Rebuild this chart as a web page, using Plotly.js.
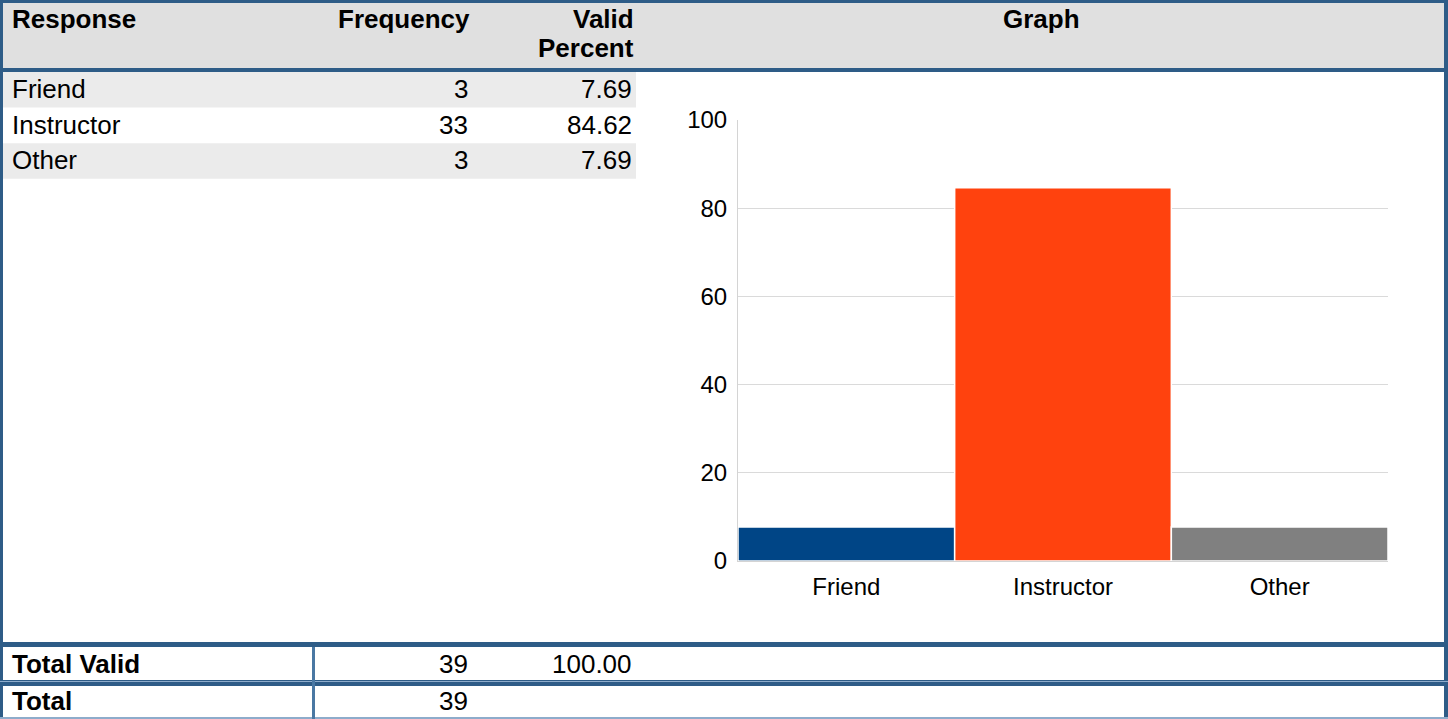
<!DOCTYPE html>
<html>
<head>
<meta charset="utf-8">
<script src="https://cdn.plot.ly/plotly-3.0.1.min.js"></script>
<style>
html,body{margin:0;padding:0;background:#fff;}
#chart{width:1448px;height:719px;}
</style>
</head>
<body>
<div id="chart"></div>
<script>
// ---- data ----
const headers = ['Response', 'Frequency', 'Valid', 'Percent', 'Graph'];
const responses = ['Friend', 'Instructor', 'Other'];
const frequency = [3, 33, 3];
const validPercent = [7.69, 84.62, 7.69];
const barColors = ['#004586', '#ff420e', '#808080'];
const totalLabels = ['Total Valid', 'Total'];
const totalFrequency = [39, 39];
const totalValidPercent = [100.00, null];
const yTicks = [0, 20, 40, 60, 80, 100];

// ---- layout helpers (pixel -> paper) ----
const W = 1448, H = 719;
const px = x => x / W;
const py = y => 1 - y / H;
const FONT = '"Liberation Sans", Arial, sans-serif';
const BORDER = '#2e5c87';

function rect(x0, y0, x1, y1, color, layer) {
  return {type: 'rect', xref: 'paper', yref: 'paper',
    x0: px(x0), x1: px(x1), y0: py(y1), y1: py(y0),
    fillcolor: color, line: {width: 0}, layer: layer || 'above'};
}
function txt(text, x, y, anchor, bold, size) {
  return {text: bold ? '<b>' + text + '</b>' : text, showarrow: false,
    xref: 'paper', yref: 'paper', x: px(x), y: py(y),
    xanchor: anchor, yanchor: 'middle',
    font: {family: FONT, size: size || 26, color: '#000'}};
}

const shapes = [];
const annotations = [];

// header background
shapes.push(rect(3, 3, 1444, 68, '#e0e0e0', 'below'));
// striped rows
const rowTop = 72, rowH = 35.6;
responses.forEach((r, i) => {
  if (i % 2 === 0) shapes.push(rect(3, rowTop + i * rowH, 636, rowTop + (i + 1) * rowH, '#ebebeb', 'below'));
});
// borders
shapes.push(rect(0, 0, W, 3, BORDER));
shapes.push(rect(0, 68, W, 72, BORDER));
shapes.push(rect(0, 0, 3, H, BORDER));
shapes.push(rect(1444, 0, W, H, BORDER));
shapes.push(rect(0, 642, W, 647, BORDER));
shapes.push(rect(0, 680, W, 686, BORDER));
shapes.push(rect(0, 681, W, 682, '#8eaccb'));
shapes.push(rect(0, 717, W, 719, '#8eaccb'));
shapes.push(rect(312, 647, 315, H, '#4a78a3'));

// header text
annotations.push(txt(headers[0], 10, 19, 'left', true));
annotations.push(txt(headers[1], 472, 19, 'right', true));
annotations.push(txt(headers[2], 636, 19, 'right', true));
annotations.push(txt(headers[3], 636, 48, 'right', true));
annotations.push(txt(headers[4], 1041, 19, 'center', true));

// body rows
responses.forEach((r, i) => {
  const cy = 89 + i * rowH;
  annotations.push(txt(r, 10, cy, 'left', false));
  annotations.push(txt(String(frequency[i]), 470, cy, 'right', false));
  annotations.push(txt(validPercent[i].toFixed(2), 634, cy, 'right', false));
});

// totals
const totalY = [664, 701];
totalLabels.forEach((t, i) => {
  annotations.push(txt(t, 10, totalY[i], 'left', true));
  annotations.push(txt(String(totalFrequency[i]), 470, totalY[i], 'right', false));
  if (totalValidPercent[i] !== null)
    annotations.push(txt(totalValidPercent[i].toFixed(2), 634, totalY[i], 'right', false));
});

const trace = {
  type: 'bar',
  x: responses,
  y: validPercent,
  marker: {color: barColors, line: {color: '#ffffff', width: 1.5}},
  hoverinfo: 'x+y'
};

const layout = {
  width: W, height: H,
  margin: {l: 0, r: 0, t: 0, b: 0},
  paper_bgcolor: '#ffffff',
  plot_bgcolor: 'rgba(0,0,0,0)',
  showlegend: false,
  bargap: 0,
  font: {family: FONT, color: '#000'},
  xaxis: {
    domain: [px(738), px(1388)],
    range: [-0.5, 2.5],
    showgrid: false,
    showline: true, linecolor: '#d4d4d4', linewidth: 1,
    ticks: '', ticklabelstandoff: 4,
    tickfont: {family: FONT, size: 24, color: '#000'},
    fixedrange: true
  },
  yaxis: {
    domain: [py(561), py(120)],
    range: [0, 100],
    tickvals: yTicks,
    showgrid: true, gridcolor: '#dadada', gridwidth: 1,
    showline: true, linecolor: '#d4d4d4', linewidth: 1,
    zeroline: false,
    ticks: '', ticklabelstandoff: 5,
    tickfont: {family: FONT, size: 24, color: '#000'},
    fixedrange: true
  },
  shapes: shapes,
  annotations: annotations
};

Plotly.newPlot('chart', [trace], layout, {displayModeBar: false, staticPlot: true});
</script>
</body>
</html>
